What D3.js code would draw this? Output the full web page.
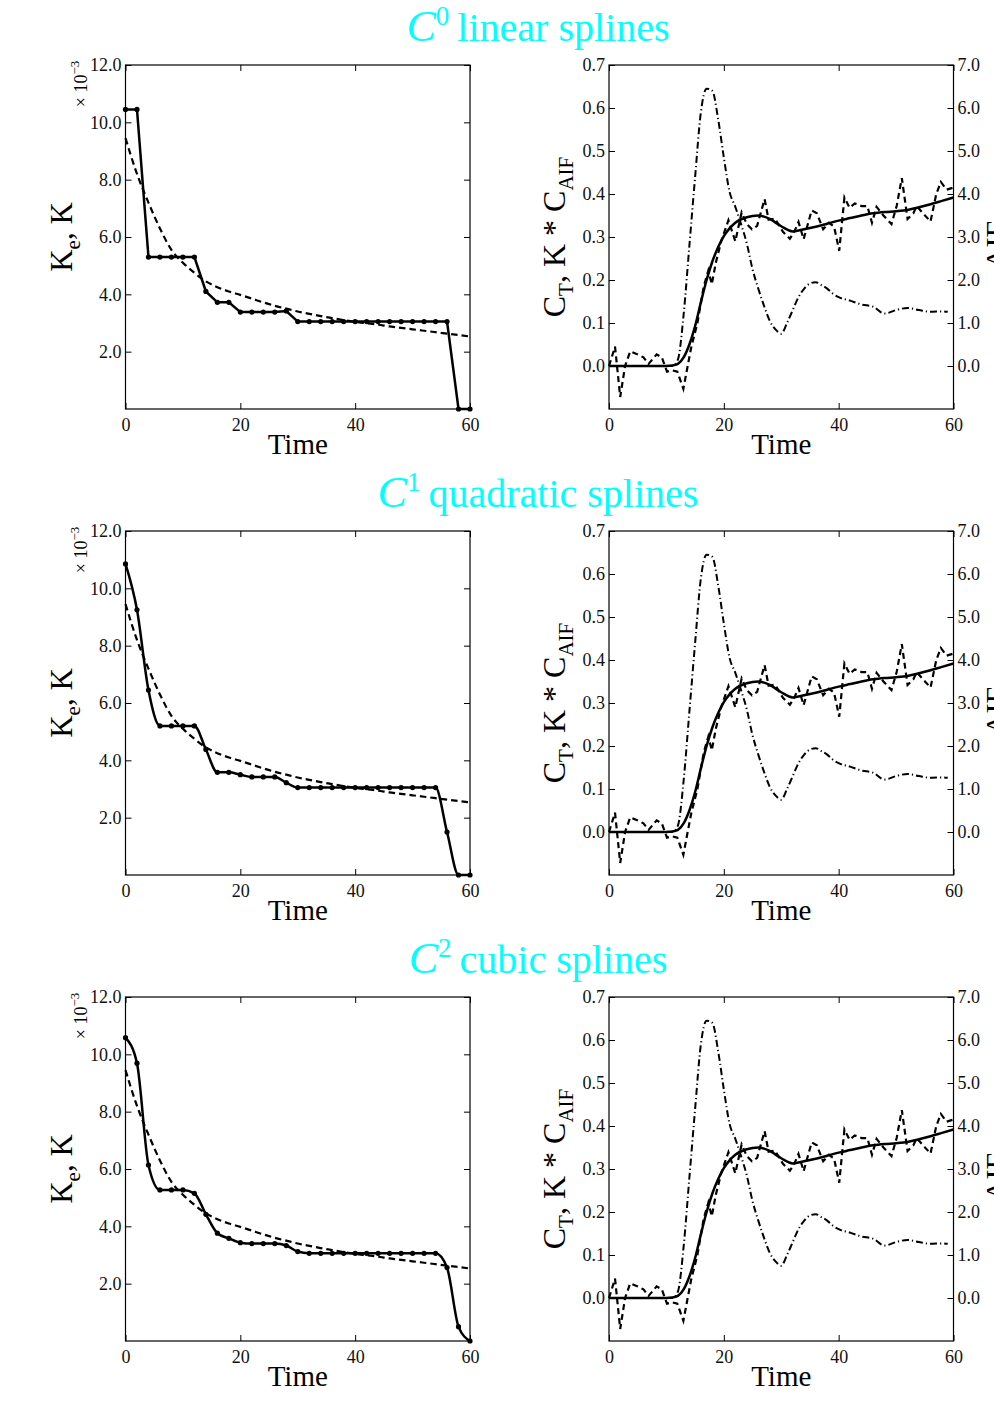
<!DOCTYPE html>
<html><head><meta charset="utf-8">
<script src="https://cdn.jsdelivr.net/npm/d3@7"></script>
<style>
body{margin:0;background:#fff}
svg text{font-family:"Liberation Serif","Times New Roman",serif}
</style>
</head><body>
<svg id="chart" width="994" height="1413" font-family="Liberation Serif"></svg>
<script>
// ---------- data ----------
const rowTitles = ["linear splines", "quadratic splines", "cubic splines"];
const rowOrders = ["0", "1", "2"];

const kTimes = [0,2,4,6,8,10,12,14,16,18,20,22,24,26,28,30,32,34,36,38,40,42,44,46,48,50,52,54,56,58,60];
const keValues = [9.45,8.2,7.2,6.3,5.55,5.1,4.75,4.45,4.25,4.1,3.98,3.85,3.72,3.6,3.5,3.4,3.32,3.24,3.17,3.1,3.04,2.99,2.94,2.88,2.83,2.78,2.73,2.68,2.63,2.58,2.53];
const kLinear = [10.45,10.45,5.3,5.3,5.3,5.3,5.3,4.1,3.72,3.72,3.38,3.38,3.38,3.38,3.42,3.05,3.05,3.05,3.05,3.05,3.05,3.05,3.05,3.05,3.05,3.05,3.05,3.05,3.05,0,0];
const kQuadratic = [10.85,9.25,6.45,5.2,5.2,5.2,5.2,4.38,3.58,3.58,3.5,3.42,3.42,3.42,3.22,3.05,3.05,3.05,3.05,3.05,3.05,3.05,3.05,3.05,3.05,3.05,3.05,3.05,1.5,0,0];
const kCubic = [10.58,9.69,6.14,5.27,5.27,5.27,5.15,4.42,3.76,3.58,3.43,3.4,3.4,3.4,3.33,3.12,3.06,3.06,3.06,3.06,3.06,3.06,3.06,3.06,3.06,3.06,3.06,3.06,2.56,0.5,0];
const kSeries = [kLinear, kQuadratic, kCubic];

const kTickValues = [2,4,6,8,10,12];
const kTickLabels = ["2.0","4.0","6.0","8.0","10.0","12.0"];
const timeTicks = [0,20,40,60];

const ctDataTimes = [0,1.05,1.95,2.8,3.7,5.0,6.0,6.9,8.3,9.2,10.1,11.0,11.9,12.95,14.3,15.4,16.5,17.3,17.9,18.6,19.6,20.8,22.0,23.1,24.0,24.9,25.8,27.1,27.8,28.9,30.3,31.5,32.2,33.0,33.9,35.3,36.2,37.3,38.3,39.2,40.1,41.0,41.9,42.8,44.0,45.0,45.8,46.6,47.8,49.2,50.1,51.0,52.0,53.0,53.6,54.7,56.0,57.0,57.8,58.8,60];
const ctDataValues = [0.0,0.045,-0.072,0.0,0.034,0.027,0.02,0.005,0.027,0.02,-0.013,-0.01,-0.013,-0.053,0.042,0.1,0.185,0.222,0.19,0.24,0.293,0.339,0.29,0.357,0.33,0.318,0.326,0.388,0.34,0.343,0.312,0.296,0.31,0.335,0.295,0.362,0.355,0.318,0.333,0.324,0.268,0.392,0.368,0.378,0.372,0.372,0.333,0.37,0.35,0.33,0.372,0.437,0.342,0.355,0.372,0.355,0.336,0.4,0.428,0.41,0.415];

const fitTimes = [0,4,8,10,11,12,13,14,15,16,17,18,19,20,21,22,24,26,28,30,32,34,36,38,40,42,44,46,48,50,52,54,56,58,60];
const fitValues = [0,0,0,0,0.001,0.005,0.02,0.05,0.093,0.148,0.2,0.243,0.276,0.302,0.32,0.333,0.346,0.35,0.342,0.325,0.313,0.318,0.324,0.331,0.338,0.344,0.35,0.355,0.358,0.36,0.363,0.369,0.376,0.384,0.392];

const aifTimes = [0,11,12,13,14,15,16,17,18,19,20,21,22,23,24,25,26,27,28,29,30,31,32,33,34,35,36,37,38,39,40,42,44,46,48,50,52,54,56,58,59];
const aifValues = [0,0,0.15,1.2,2.8,4.4,5.9,6.45,6.4,5.75,4.85,4.05,3.7,3.3,2.85,2.25,1.8,1.4,1.05,0.85,0.75,1.0,1.3,1.6,1.8,1.92,1.95,1.88,1.8,1.68,1.6,1.52,1.43,1.38,1.22,1.3,1.35,1.3,1.26,1.27,1.26];

const ctTickValues = [0,0.1,0.2,0.3,0.4,0.5,0.6,0.7];
const ctTickLabels = ["0.0","0.1","0.2","0.3","0.4","0.5","0.6","0.7"];
const aifTickValues = [0,1,2,3,4,5,6,7];
const aifTickLabels = ["0.0","1.0","2.0","3.0","4.0","5.0","6.0","7.0"];

// ---------- layout ----------
const SERIF = "Liberation Serif";
const svg = d3.select("#chart");
svg.append("rect").attr("width",994).attr("height",1413).attr("fill","#fff");
const rowTops = [65, 531, 997];
const plotH = 344;
const leftX = [125.5, 470];
const rightX = [609, 953.5];
const tickFont = 18;

function styleAxis(a) {
  a.attr("font-family", SERIF).attr("font-size", tickFont);
  a.select(".domain").remove();
  a.selectAll("text").attr("font-size", tickFont).attr("fill","#111").attr("font-family", SERIF);
}

function boxAxes(g, x, y, yTickVals, yTickLabels, opts) {
  const [x0,x1] = x.range(); const [y0,y1] = y.range();
  g.append("g").attr("transform",`translate(0,${y0})`)
    .call(d3.axisBottom(x).tickValues(timeTicks).tickFormat(d=>d).tickSize(-6).tickPadding(9))
    .call(styleAxis);
  g.append("g").attr("transform",`translate(0,${y1})`)
    .call(d3.axisTop(x).tickValues(timeTicks).tickFormat("").tickSize(-6))
    .call(styleAxis);
  g.append("g").attr("transform",`translate(${x0},0)`)
    .call(d3.axisLeft(y).tickValues(yTickVals).tickFormat((d,i)=>yTickLabels[i]).tickSize(-6).tickPadding(4))
    .call(styleAxis);
  if (opts && opts.right) {
    g.append("g").attr("transform",`translate(${x1},0)`)
      .call(d3.axisRight(opts.right.scale).tickValues(opts.right.vals).tickFormat((d,i)=>opts.right.labels[i]).tickSize(-6).tickPadding(4))
      .call(styleAxis);
  } else {
    g.append("g").attr("transform",`translate(${x1},0)`)
      .call(d3.axisRight(y).tickValues(yTickVals).tickFormat("").tickSize(-6))
      .call(styleAxis);
  }
  g.append("rect").attr("x",x0).attr("y",y1).attr("width",x1-x0).attr("height",y0-y1)
    .attr("fill","none").attr("stroke","#000").attr("stroke-width",1.2);
  g.append("text").attr("x",(x0+x1)/2).attr("y",y0+45).attr("text-anchor","middle")
    .attr("font-family",SERIF).attr("font-size",29).attr("fill","#000").text("Time");
}

rowTops.forEach((top, r) => {
  const bottom = top + plotH;
  // title
  const t = svg.append("text").attr("x",538).attr("y",top-24).attr("text-anchor","middle")
    .attr("font-family",SERIF).attr("font-size",40).attr("fill","#00FFFF");
  t.append("tspan").attr("font-style","italic").attr("font-size",44).text("C");
  t.append("tspan").attr("font-size",27).attr("dy",-16).text(rowOrders[r]);
  t.append("tspan").attr("dy",16).text("\u2009" + rowTitles[r]);

  // ---- left panel ----
  const gl = svg.append("g");
  const xl = d3.scaleLinear().domain([0,60]).range(leftX);
  const yl = d3.scaleLinear().domain([0,12]).range([bottom, top]);
  boxAxes(gl, xl, yl, kTickValues, kTickLabels);

  const keLine = d3.line().x((d,i)=>xl(kTimes[i])).y(d=>yl(d)).curve(d3.curveMonotoneX);
  gl.append("path").attr("d", keLine(keValues)).attr("fill","none").attr("stroke","#000")
    .attr("stroke-width",2.2).attr("stroke-dasharray","6.5,4");
  const kLine = d3.line().x((d,i)=>xl(kTimes[i])).y(d=>yl(d))
    .curve(r === 0 ? d3.curveLinear : d3.curveMonotoneX);
  gl.append("path").attr("d", kLine(kSeries[r])).attr("fill","none").attr("stroke","#000")
    .attr("stroke-width",2.5);
  gl.selectAll("circle.k").data(kSeries[r]).join("circle").attr("class","k")
    .attr("cx",(d,i)=>xl(kTimes[i])).attr("cy",d=>yl(d)).attr("r",2.6).attr("fill","#000");

  // y label
  const ly = svg.append("text").attr("transform",`translate(72,${top+172}) rotate(-90)`)
    .attr("text-anchor","middle").attr("font-family",SERIF).attr("font-size",31).attr("fill","#000");
  ly.append("tspan").text("K");
  ly.append("tspan").attr("font-size",21).attr("dy",8).text("e");
  ly.append("tspan").attr("dy",-8).text(",  K");
  const sc = svg.append("text").attr("transform",`translate(87,${top+19}) rotate(-90)`)
    .attr("text-anchor","middle").attr("font-family",SERIF).attr("font-size",18).attr("fill","#000");
  sc.append("tspan").text("\u00d7 10");
  sc.append("tspan").attr("font-size",13).attr("dy",-8).text("\u22123");

  // ---- right panel ----
  const gr = svg.append("g");
  const xr = d3.scaleLinear().domain([0,60]).range(rightX);
  const yr = d3.scaleLinear().domain([-0.1,0.7]).range([bottom, top]);
  const ya = d3.scaleLinear().domain([-1,7]).range([bottom, top]);
  boxAxes(gr, xr, yr, ctTickValues, ctTickLabels, {right:{scale:ya, vals:aifTickValues, labels:aifTickLabels}});

  const aifLine = d3.line().x((d,i)=>xr(aifTimes[i])).y(d=>ya(d)).curve(d3.curveMonotoneX);
  gr.append("path").attr("d", aifLine(aifValues)).attr("fill","none").attr("stroke","#000")
    .attr("stroke-width",2).attr("stroke-dasharray","7,3,1.2,3");
  const dataLine = d3.line().x((d,i)=>xr(ctDataTimes[i])).y(d=>yr(d));
  gr.append("path").attr("d", dataLine(ctDataValues)).attr("fill","none").attr("stroke","#000")
    .attr("stroke-width",2.2).attr("stroke-dasharray","6,4");
  const fitLine = d3.line().x((d,i)=>xr(fitTimes[i])).y(d=>yr(d)).curve(d3.curveMonotoneX);
  gr.append("path").attr("d", fitLine(fitValues)).attr("fill","none").attr("stroke","#000")
    .attr("stroke-width",2.5);

  const ry = svg.append("text").attr("transform",`translate(565,${top+172}) rotate(-90)`)
    .attr("text-anchor","middle").attr("font-family",SERIF).attr("font-size",32).attr("fill","#000");
  ry.append("tspan").text("C");
  ry.append("tspan").attr("font-size",21).attr("dy",8).text("T");
  ry.append("tspan").attr("dy",-8).text(",  K * C");
  ry.append("tspan").attr("font-size",21).attr("dy",8).text("AIF");

  svg.append("text").attr("transform",`translate(1006,${top+180}) rotate(-90)`)
    .attr("text-anchor","middle").attr("font-family",SERIF).attr("font-size",30).attr("fill","#000").text("AIF");
});
</script>
</body></html>
